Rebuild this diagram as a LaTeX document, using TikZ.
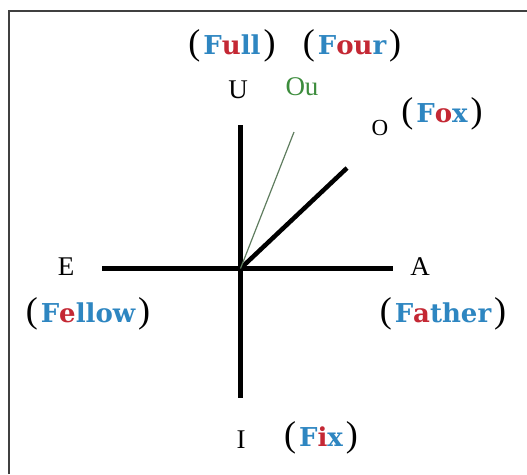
\documentclass[tikz,border=0pt]{standalone}
\usepackage{fontspec}
\setmainfont{Liberation Serif}
\newfontfamily\wordfont{DejaVu Serif}[BoldFont={DejaVu Serif Bold}]
\definecolor{wblue}{RGB}{46,134,193}
\definecolor{wred}{RGB}{196,40,52}
\definecolor{ougreen}{RGB}{60,140,60}
\definecolor{ouline}{RGB}{95,125,95}
\definecolor{frame}{RGB}{64,64,64}
\newcommand{\pbig}[1]{{\fontsize{36}{36}\selectfont #1}}
\newcommand{\pw}[1]{\pbig{(}\kern3pt{\wordfont\bfseries\fontsize{26}{26}\selectfont #1}\kern3pt\pbig{)}}
\newcommand{\bl}[1]{\textcolor{wblue}{#1}}
\newcommand{\rd}[1]{\textcolor{wred}{#1}}
\begin{document}
\begin{tikzpicture}[x=1pt,y=-1pt,
  letter/.style={inner sep=0pt,anchor=base,font=\fontsize{27}{27}\selectfont},
  word/.style={inner sep=0pt,anchor=base},
  axis/.style={line width=5pt,black},
  ouaxis/.style={line width=1.2pt,ouline},
  framed/.style={line width=2pt,frame}]
\useasboundingbox (0,0) rectangle (527,474);
% frame (left and top edges)
\coordinate (fbl) at (9,474);
\coordinate (ftl) at (9,11);
\coordinate (ftr) at (527,11);
\draw[framed] (fbl) -- (ftl) -- (ftr);
% axis coordinates
\coordinate (c) at (240.5,268.5);
\coordinate (top) at (240.5,125);
\coordinate (bot) at (240.5,398);
\coordinate (lft) at (102,268.5);
\coordinate (rgt) at (393,268.5);
\coordinate (oend) at (347,168);
\coordinate (ouend) at (294,132);
\draw[axis] (top) -- (bot);
\draw[axis] (lft) -- (rgt);
\draw[axis,line width=4.5pt] (c) -- (oend);
\draw[ouaxis] (c) -- (ouend);
% letters
\node[letter] (U) at (238,98) {U};
\node[letter,text=ougreen] (Ou) at (302,95) {Ou};
\node[letter,font=\fontsize{23}{23}\selectfont] (O) at (380,135) {O};
\node[letter] (E) at (66,275) {E};
\node[letter] (A) at (420,275) {A};
\node[letter] (I) at (241,448) {I};
% words
\node[word] (full) at (232,54) {\pw{\bl{F}\rd{u}\bl{ll}}};
\node[word] (four) at (352,54) {\pw{\bl{F}\rd{ou}\bl{r}}};
\node[word] (fox) at (442,122) {\pw{\bl{F}\rd{o}\bl{x}}};
\node[word] (fellow) at (88,322) {\pw{\bl{F}\rd{e}\bl{llow}}};
\node[word] (father) at (443,322) {\pw{\bl{F}\rd{a}\bl{ther}}};
\node[word] (fix) at (321,446) {\pw{\bl{F}\rd{i}\bl{x}}};
\end{tikzpicture}
\end{document}
